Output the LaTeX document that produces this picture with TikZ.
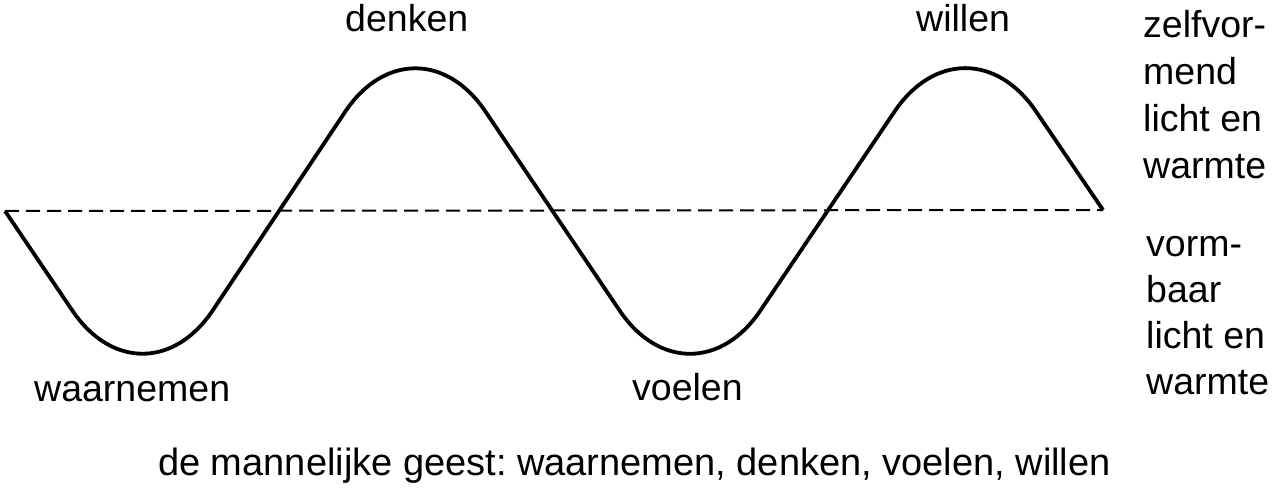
\documentclass[tikz,border=0pt]{standalone}
\usepackage{fontspec}
\setmainfont{Liberation Sans}
\begin{document}
\frenchspacing
\begin{tikzpicture}[x=1pt,y=-1pt,
  lbl/.style={inner sep=0pt,anchor=base west,font=\fontsize{37.5}{45}\selectfont},
  wave/.style={line width=3.8pt,line join=round,rounded corners=126pt},
  axis/.style={line width=2pt,dash pattern=on 14pt off 7pt}]
\useasboundingbox (0,0) rectangle (1277,497);
\coordinate (s) at (5,211);
\coordinate (e) at (1103,210);
\coordinate (t1) at (143,415);
\coordinate (p1) at (415,7);
\coordinate (t2) at (690,415);
\coordinate (p2) at (965,7);
\draw[axis] (s) -- (e);
\draw[wave] (s) -- (t1) -- (p1) -- (t2) -- (p2) -- (e);
\node[lbl] (denken) at (345,32) {denken};
\node[lbl] (willen) at (916,32) {willen};
\node[lbl] (waarnemen) at (34,401) {waarnemen};
\node[lbl] (voelen) at (632,400) {voelen};
\node[lbl] (r1) at (1143,38) {zelfvor-};
\node[lbl] (r2) at (1143,85) {mend};
\node[lbl] (r3) at (1143,132) {licht en};
\node[lbl] (r4) at (1143,179) {warmte};
\node[lbl] (r5) at (1146,256) {vorm-};
\node[lbl] (r6) at (1146,302) {baar};
\node[lbl] (r7) at (1146,348) {licht en};
\node[lbl] (r8) at (1146,394) {warmte};
\node[lbl,font=\fontsize{38}{45}\selectfont] (caption) at (158,475) {de mannelijke geest: waarnemen, denken, voelen, willen};
\end{tikzpicture}
\end{document}
